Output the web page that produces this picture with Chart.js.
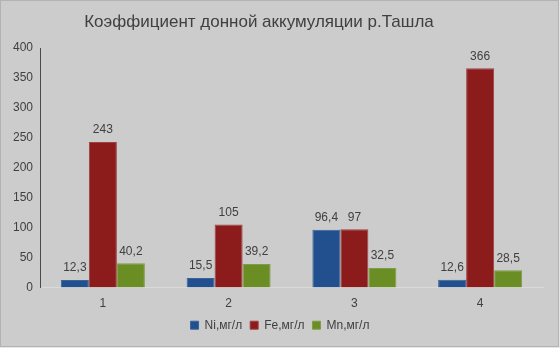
<!DOCTYPE html>
<html>
<head>
<meta charset="utf-8">
<script src="https://cdn.jsdelivr.net/npm/chart.js@4"></script>
<style>
  html, body { margin: 0; padding: 0; background: #ffffff; }
  #wrap { width: 560px; height: 348px; }
</style>
</head>
<body>
<div id="wrap"><canvas id="c" width="560" height="348"></canvas></div>
<script>
const categories = ['1', '2', '3', '4'];
const niValues = [12.3, 15.5, 96.4, 12.6];
const feValues = [243, 105, 97, 366];
const mnValues = [40.2, 39.2, 32.5, 28.5];
const seriesNames = ['Ni,мг/л', 'Fe,мг/л', 'Mn,мг/л'];
const yTicks = [0, 50, 100, 150, 200, 250, 300, 350, 400];
const titleText = 'Коэффициент донной аккумуляции р.Ташла';

const FONT = '"Liberation Sans", Arial, sans-serif';
const TEXT = '#404040';

const bgPlugin = {
  id: 'bg',
  beforeDraw(chart) {
    const ctx = chart.ctx;
    ctx.save();
    ctx.fillStyle = '#e6e6e6';
    ctx.fillRect(0, 0, chart.width, chart.height);
    ctx.fillStyle = '#cccccc';
    ctx.fillRect(1, 1, chart.width - 3, chart.height - 3);
    ctx.strokeStyle = '#b3b3b3';
    ctx.lineWidth = 1;
    ctx.strokeRect(0.5, 0.5, chart.width - 2, chart.height - 2);
    ctx.restore();
  }
};

const titlePlugin = {
  id: 'chartTitle',
  afterDraw(chart) {
    const ctx = chart.ctx;
    ctx.save();
    ctx.font = '17px ' + FONT;
    ctx.fillStyle = TEXT;
    ctx.textAlign = 'center';
    ctx.textBaseline = 'middle';
    ctx.fillText(titleText, 259, 22);
    ctx.restore();
  }
};

const fmt = v => String(v).replace('.', ',');

const labelPlugin = {
  id: 'valueLabels',
  afterDatasetsDraw(chart) {
    const ctx = chart.ctx;
    ctx.save();
    ctx.font = '12px ' + FONT;
    ctx.fillStyle = TEXT;
    ctx.textAlign = 'center';
    ctx.textBaseline = 'middle';
    chart.data.datasets.forEach((ds, i) => {
      const meta = chart.getDatasetMeta(i);
      meta.data.forEach((el, j) => {
        ctx.fillText(fmt(ds.data[j]), el.x, el.y - 12);
      });
    });
    ctx.restore();
  }
};

new Chart(document.getElementById('c'), {
  type: 'bar',
  data: {
    labels: categories,
    datasets: [
      { label: seriesNames[0], data: niValues, backgroundColor: '#22508f', borderColor: '#3a6499' },
      { label: seriesNames[1], data: feValues, backgroundColor: '#8c1c1c', borderColor: '#a04040' },
      { label: seriesNames[2], data: mnValues, backgroundColor: '#6a8e24', borderColor: '#7f9d46' }
    ]
  },
  options: {
    responsive: false,
    animation: false,
    devicePixelRatio: 1,
    layout: { padding: { top: 48, left: 0, right: 0, bottom: 6.8 } },
    datasets: { bar: { barPercentage: 1, categoryPercentage: 0.668, borderWidth: 1 } },
    plugins: {
      title: { display: false },
      legend: {
        position: 'bottom',
        labels: {
          boxWidth: 8,
          boxHeight: 8,
          padding: 8,
          color: TEXT,
          font: { family: FONT, size: 12 }
        }
      },
      tooltip: { enabled: false }
    },
    scales: {
      x: {
        grid: { display: false, drawTicks: false },
        border: { display: true, color: '#dadada', width: 1 },
        ticks: { color: TEXT, font: { family: FONT, size: 12 }, padding: 8.8 },
        afterFit(scale) { scale.height = 23.8; }
      },
      y: {
        min: 0,
        max: 400,
        afterBuildTicks(scale) { scale.ticks = yTicks.map(v => ({ value: v })); },
        grid: { display: false, drawTicks: false },
        border: { display: true, color: '#4a4a4a', width: 1 },
        ticks: { color: TEXT, font: { family: FONT, size: 12 }, padding: 7 },
        afterFit(scale) { scale.width = 40; }
      },
      yRight: {
        position: 'right',
        display: true,
        grid: { display: false, drawTicks: false },
        border: { display: false },
        ticks: { display: false },
        afterFit(scale) { scale.width = 17; }
      }
    }
  },
  plugins: [bgPlugin, labelPlugin, titlePlugin]
});
</script>
</body>
</html>
